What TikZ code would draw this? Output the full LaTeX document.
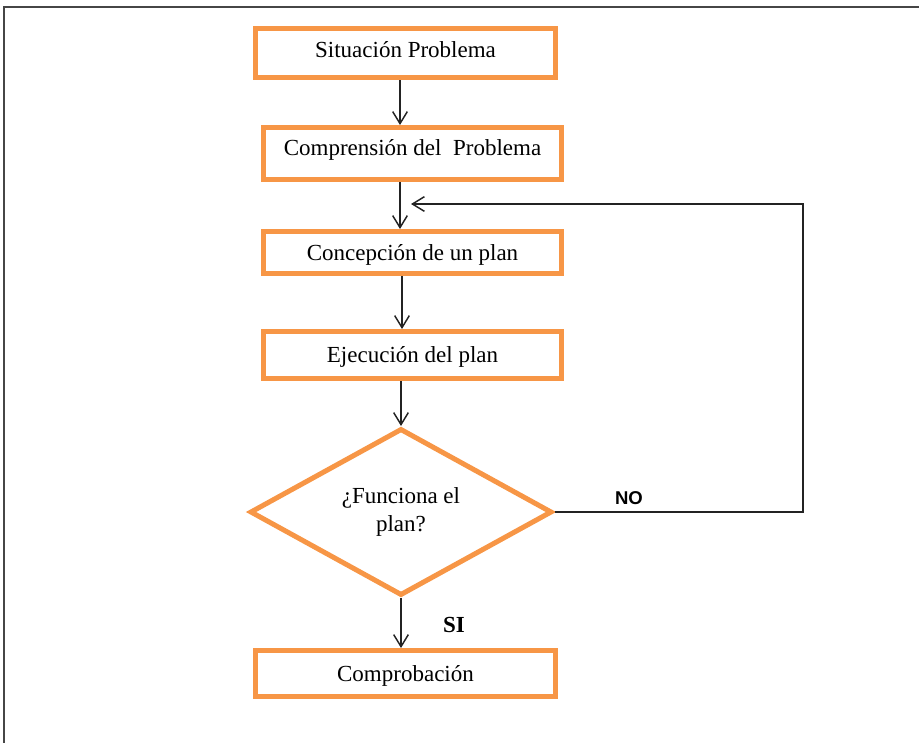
\documentclass[tikz,border=0pt]{standalone}
\usepackage{fontspec}
\setmainfont{Liberation Serif}
\newfontfamily\labelsans{Liberation Sans}
\usetikzlibrary{arrows.meta,shapes.geometric}
\definecolor{boxorange}{RGB}{247,150,70}
\definecolor{framegray}{RGB}{70,70,70}
\definecolor{linkgray}{RGB}{35,35,35}

\begin{document}
\begin{tikzpicture}[x=0.75pt,y=-0.75pt,
  every node/.style={font=\fontsize{17.25pt}{21pt}\selectfont},
  stepbox/.style={draw=boxorange, line width=3.75pt, rectangle, inner sep=2pt,
    text height=11.4pt, text depth=0pt},
  decision/.style={draw=boxorange, line width=3.75pt, diamond, inner sep=0pt,
    align=center, minimum width=226.5pt, minimum height=124.5pt},
  link/.style={draw=linkgray, line width=1.1pt,
    -{Straight Barb[length=9pt,width=11pt]}},
  tag/.style={anchor=base, text=black}]

  \useasboundingbox (0,0) rectangle (919,742);
  \clip (0,0) rectangle (919,742);

  % page frame (left and top edges)
  \coordinate (fBL) at (4,760);
  \coordinate (fTL) at (4,6.7);
  \coordinate (fTR) at (930,6.7);
  \draw[framegray, line width=1.3pt] (fBL) -- (fTL) -- (fTR);

  % process steps
  \node[stepbox, minimum width=225pt, minimum height=36.75pt, text depth=5.25pt]
    (sit) at (405.5,53) {Situación Problema};
  \node[stepbox, minimum width=223.5pt, minimum height=39pt, text depth=8.25pt]
    (comp) at (412.5,153.5) {Comprensión del\ \ Problema\hspace{6.75pt}};
  \node[stepbox, minimum width=223.5pt, minimum height=31.5pt]
    (plan) at (412.5,252.5) {Concepción de un plan\hspace{8.25pt}};
  \node[stepbox, minimum width=223.5pt, minimum height=35.25pt]
    (exec) at (412.5,355) {Ejecución del plan};
  \node[decision] (works) at (401,512) {¿Funciona el\\plan?};
  \node[stepbox, minimum width=225pt, minimum height=34.5pt]
    (check) at (405.5,673.5) {Comprobación};

  % vertical flow
  \coordinate (colA) at (400,0);
  \coordinate (colB) at (402,0);
  \draw[link] (sit.south -| colA) -- (comp.north -| colA);
  \draw[link] (comp.south -| colA) -- (plan.north -| colA);
  \draw[link] (plan.south -| colB) -- (exec.north -| colB);
  \draw[link] (exec.south -| works.north) -- (works.north);
  \draw[link] (works.south) -- (check.north -| works.south);

  % loop back when the plan fails
  \coordinate (loopR) at (803,0);
  \coordinate (loopT) at (0,204);
  \coordinate (loopEnd) at (411,204);
  \draw[link] (works.east) -- (works.east -| loopR) -- (loopR |- loopT) -- (loopEnd);

  % branch labels
  \node[tag, font=\labelsans\bfseries\fontsize{13.9pt}{16pt}\selectfont]
    (no) at (629,504) {NO};
  \node[tag, font=\bfseries\fontsize{17.25pt}{21pt}\selectfont]
    (si) at (454,632) {SI};
\end{tikzpicture}
\end{document}
